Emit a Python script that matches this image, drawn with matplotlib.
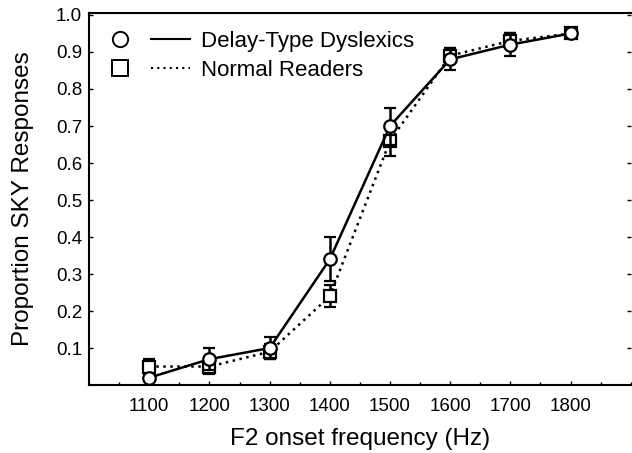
import numpy as np
import matplotlib
matplotlib.use('Agg')
import matplotlib.pyplot as plt
from matplotlib.lines import Line2D
from matplotlib.legend_handler import HandlerTuple
from matplotlib.ticker import FixedLocator, MultipleLocator

plt.rcParams['font.family'] = ['Liberation Sans', 'DejaVu Sans']

# ── Data ─────────────────────────────────────────────────────────────────────
freqs = [1100, 1200, 1300, 1400, 1500, 1600, 1700, 1800]
dyslexic = [0.02, 0.07, 0.10, 0.34, 0.70, 0.88, 0.92, 0.95]
dyslexic_err = [0.01, 0.03, 0.03, 0.06, 0.05, 0.03, 0.03, 0.01]
normal = [0.05, 0.05, 0.09, 0.24, 0.66, 0.89, 0.93, 0.95]
normal_err = [0.02, 0.02, 0.02, 0.03, 0.04, 0.02, 0.02, 0.01]
y_ticks = [0.1, 0.2, 0.3, 0.4, 0.5, 0.6, 0.7, 0.8, 0.9, 1.0]

fig = plt.figure(figsize=(6.32, 4.53), dpi=100)
ax = fig.add_axes([0.141, 0.150, 0.857, 0.821])

ax.errorbar(freqs, dyslexic, yerr=dyslexic_err, color='black', lw=1.8,
            ls='-', marker='o', ms=9, mfc='white', mec='black', mew=1.6,
            capsize=4, elinewidth=1.8, capthick=1.8, zorder=3)
ax.errorbar(freqs, normal, yerr=normal_err, color='black', lw=1.8,
            ls=(0, (1, 1.8)), marker='s', ms=9, mfc='white', mec='black', mew=1.6,
            capsize=4, elinewidth=1.8, capthick=1.8, zorder=2)

ax.set_xlim(1000, 1900)
ax.set_ylim(0, 1.005)
ax.xaxis.set_major_locator(FixedLocator(freqs))
ax.xaxis.set_minor_locator(MultipleLocator(50))
ax.yaxis.set_major_locator(FixedLocator(y_ticks))
ax.set_yticklabels([f'{v:.1f}' for v in y_ticks])

ax.tick_params(axis='both', which='both', direction='in', labelsize=13.5,
               width=1, right=True)
ax.tick_params(which='major', length=3)
ax.tick_params(which='minor', length=2)
ax.tick_params(axis='x', pad=9)
ax.tick_params(axis='y', pad=5)
ax.spines['right'].set_visible(False)
for s in ['left', 'bottom', 'top']:
    ax.spines[s].set_linewidth(1.5)

ax.set_xlabel('F2 onset frequency (Hz)', fontsize=17.5, labelpad=10)
ax.set_ylabel('Proportion SKY Responses', fontsize=17.5, labelpad=16)

# ── Legend: marker, then line sample, then label ─────────────────────────────
h_dys = (Line2D([], [], ls='none', marker='o', ms=11, mfc='white', mec='black', mew=1.4),
         Line2D([], [], color='black', lw=1.5))
h_nor = (Line2D([], [], ls='none', marker='s', ms=11, mfc='white', mec='black', mew=1.4),
         Line2D([], [], color='black', lw=1.5, ls=(0, (1, 2))))
ax.legend([h_dys, h_nor], ['Delay-Type Dyslexics', 'Normal Readers'],
          handler_map={tuple: HandlerTuple(ndivide=None, pad=0.5)},
          loc='upper left', bbox_to_anchor=(-0.015, 1.005), frameon=False,
          fontsize=16, handlelength=4.0, handletextpad=0.5,
          labelspacing=0.35)

fig.savefig('out.png', dpi=100)
